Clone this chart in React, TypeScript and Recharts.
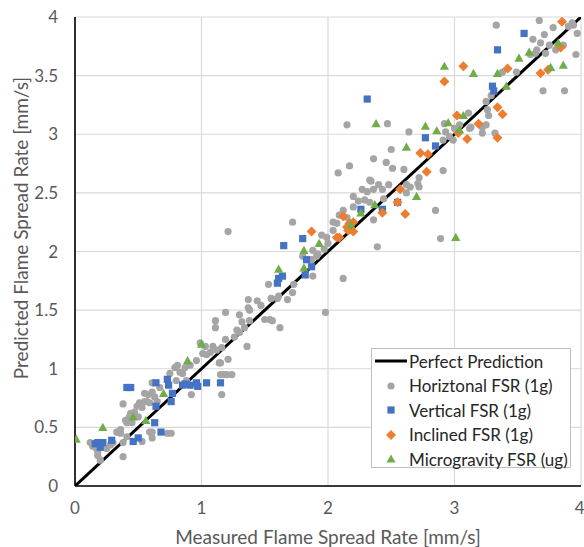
import React from 'react';
import { ScatterChart, Scatter, XAxis, YAxis, CartesianGrid } from 'recharts';

// measured vs predicted flame spread rate [mm/s]
const perfect = [[0, 0], [4, 4]];

const horizontal = [
  [0.12, 0.37], [0.14, 0.34], [0.17, 0.32], [0.18, 0.26], [0.2, 0.22], [0.18, 0.29], [0.22, 0.37], [0.25, 0.32],
  [0.28, 0.35], [0.3, 0.37], [0.33, 0.46], [0.34, 0.46], [0.36, 0.45], [0.36, 0.48], [0.38, 0.37], [0.38, 0.25],
  [0.38, 0.7], [0.4, 0.56], [0.41, 0.42], [0.41, 0.54], [0.43, 0.59], [0.44, 0.62], [0.45, 0.54], [0.47, 0.63],
  [0.49, 0.68], [0.5, 0.59], [0.51, 0.71], [0.53, 0.38], [0.53, 0.67], [0.55, 0.72], [0.55, 0.79], [0.57, 0.72],
  [0.58, 0.78], [0.59, 0.46], [0.59, 0.71], [0.61, 0.41], [0.61, 0.46], [0.61, 0.8], [0.61, 0.88], [0.63, 0.76],
  [0.65, 0.72], [0.67, 0.84], [0.73, 0.45], [0.76, 0.45], [0.75, 0.96], [0.79, 1.01], [0.8, 0.9], [0.81, 1.03],
  [0.83, 0.97], [0.85, 0.96], [0.87, 1.01], [0.88, 0.9], [0.91, 1.03], [0.92, 0.78], [0.96, 1.07], [0.99, 1.22],
  [1.01, 1.13], [1.03, 1.19], [1.04, 1.12], [1.07, 1.14], [1.09, 1.19], [1.12, 1.16], [1.14, 1.05], [1.15, 0.95],
  [1.15, 1.05], [1.16, 0.78], [1.16, 1.18], [1.18, 0.95], [1.2, 0.95], [1.21, 1.08], [1.24, 0.95],
  [1.11, 1.35], [1.11, 1.41], [1.19, 1.25], [1.19, 1.48], [1.26, 1.27], [1.28, 1.33], [1.3, 1.31], [1.3, 1.46],
  [1.32, 1.4], [1.34, 1.35], [1.36, 1.19], [1.37, 1.52], [1.37, 1.59], [1.38, 1.41], [1.38, 1.5], [1.44, 1.58],
  [1.47, 1.54], [1.5, 1.42], [1.53, 1.72], [1.54, 1.42], [1.55, 1.6], [1.56, 1.41], [1.6, 1.6], [1.61, 1.62],
  [1.62, 1.35], [1.68, 1.59], [1.72, 1.65], [1.72, 2.25], [1.73, 1.72], [1.21, 2.17], [1.8, 1.96], [1.87, 1.93],
  [1.88, 1.79], [1.88, 2.01], [1.91, 1.96], [1.92, 1.98], [1.95, 2.14], [1.97, 2.02], [1.98, 1.48], [1.99, 2.12],
  [2.0, 2.07], [2.04, 2.18], [2.07, 2.24],
  [2.04, 2.25], [2.08, 2.67], [2.09, 2.31], [2.12, 2.35], [2.12, 1.77], [2.15, 3.08], [2.15, 2.29], [2.17, 2.73],
  [2.2, 2.38], [2.2, 2.47], [2.24, 2.43], [2.27, 2.53], [2.29, 2.44], [2.31, 2.51], [2.33, 2.42], [2.33, 2.61],
  [2.34, 2.6], [2.36, 2.27], [2.36, 2.53], [2.36, 2.79], [2.39, 2.04], [2.4, 2.57], [2.43, 2.53], [2.44, 2.45],
  [2.46, 2.76], [2.47, 3.09], [2.48, 2.57], [2.5, 2.87], [2.51, 2.71], [2.6, 2.7], [2.62, 2.5], [2.62, 2.57],
  [2.64, 3.02], [2.65, 2.55], [2.71, 2.58], [2.72, 2.63], [2.72, 2.55], [2.85, 2.35], [2.89, 2.11], [2.91, 2.69],
  [2.91, 2.95], [2.92, 3.09], [2.93, 3.02], [2.96, 2.98], [2.99, 2.95], [3.0, 3.05], [3.04, 3.08], [3.11, 3.18],
  [3.12, 3.05], [3.13, 3.06], [3.22, 3.06], [3.22, 3.01], [3.25, 3.08], [3.25, 3.28], [3.26, 3.21], [3.27, 3.16],
  [3.29, 3.33], [3.32, 3.01], [3.33, 3.93], [3.38, 3.53], [3.49, 3.53], [3.6, 3.68], [3.62, 3.81], [3.64, 3.69],
  [3.65, 3.72], [3.67, 3.97], [3.68, 3.78], [3.7, 3.37], [3.71, 3.85], [3.72, 3.69], [3.75, 3.76], [3.78, 3.91],
  [3.8, 3.72], [3.86, 3.76], [3.87, 3.37], [3.9, 3.92], [3.93, 3.95], [3.94, 3.93], [3.96, 3.68], [3.97, 3.86],
];

const vertical = [
  [0.16, 0.36], [0.18, 0.37], [0.2, 0.33], [0.22, 0.37], [0.29, 0.39], [0.41, 0.84], [0.44, 0.84], [0.46, 0.38],
  [0.5, 0.41], [0.63, 0.54], [0.64, 0.68], [0.64, 0.88], [0.68, 0.46], [0.73, 0.91], [0.74, 0.86], [0.76, 0.72],
  [0.77, 0.79], [0.85, 0.86], [0.87, 0.87], [0.91, 0.86], [0.96, 0.88], [0.97, 0.85], [1.04, 0.88], [1.15, 0.88],
  [1.6, 1.73], [1.61, 1.77], [1.64, 1.79], [1.65, 2.05], [1.8, 2.11], [1.82, 1.8], [1.83, 1.93], [1.87, 1.87],
  [2.26, 2.36], [2.31, 3.3], [2.43, 2.36], [2.55, 2.42], [2.77, 2.97], [2.85, 2.9], [3.3, 3.41], [3.31, 3.37],
  [3.34, 3.72], [3.55, 3.86],
];

const inclined = [
  [1.87, 2.17], [2.07, 2.12], [2.09, 2.12], [2.12, 2.3], [2.15, 2.21], [2.16, 2.18], [2.17, 2.24], [2.2, 2.25],
  [2.2, 2.17], [2.43, 2.33], [2.55, 2.42], [2.57, 2.53], [2.61, 2.32], [2.73, 2.84], [2.78, 2.68], [2.79, 2.83],
  [2.92, 3.45], [3.02, 3.16], [3.03, 3.01], [3.07, 3.58], [3.1, 2.96], [3.19, 3.09], [3.34, 3.23], [3.34, 2.97],
  [3.38, 3.17], [3.42, 3.56], [3.68, 3.52], [3.74, 3.55], [3.84, 3.74], [3.85, 3.96],
];

const microgravity = [
  [0.01, 0.4], [0.22, 0.5], [0.46, 0.59], [0.56, 0.56], [0.7, 0.79], [0.89, 1.07], [1.0, 1.21], [1.61, 1.85],
  [1.81, 1.86], [1.81, 2.01], [1.93, 2.07], [2.18, 2.23], [2.26, 2.33], [2.37, 2.4], [2.38, 3.09], [2.62, 2.89],
  [2.7, 2.47], [2.77, 3.07], [2.86, 3.03], [2.92, 3.58], [2.95, 3.1], [3.01, 2.12], [3.04, 3.04], [3.07, 3.16],
  [3.15, 3.52], [3.34, 3.52], [3.41, 3.41], [3.51, 3.65], [3.59, 3.7], [3.76, 3.57], [3.82, 3.78], [3.86, 3.59],
];

const xTicks = [0, 1, 2, 3, 4];
const yTicks = [0, 0.5, 1, 1.5, 2, 2.5, 3, 3.5, 4];

const toPoints = (arr: number[][]) => arr.map(([x, y]) => ({ x, y }));

const GRAY = '#A5A5A5';
const BLUE = '#4472C4';
const ORANGE = '#ED7D31';
const GREEN = '#70AD47';
const TEXT = '#595959';
const FONT = 'Lato, "Noto Sans", sans-serif';

const Dot = (p: any) => <circle cx={p.cx} cy={p.cy} r={3.6} fill={GRAY} />;
const Square = (p: any) => <rect x={p.cx - 3.6} y={p.cy - 3.6} width={7.2} height={7.2} fill={BLUE} />;
const Diamond = (p: any) => (
  <polygon points={`${p.cx},${p.cy - 5} ${p.cx + 5},${p.cy} ${p.cx},${p.cy + 5} ${p.cx - 5},${p.cy}`} fill={ORANGE} />
);
const Triangle = (p: any) => (
  <polygon points={`${p.cx},${p.cy - 4.6} ${p.cx + 4.6},${p.cy + 3.6} ${p.cx - 4.6},${p.cy + 3.6}`} fill={GREEN} />
);
const Nothing = () => <g />;

const legendRows = [
  { name: 'Perfect Prediction', kind: 'line' },
  { name: 'Horiztonal FSR (1g)', kind: 'dot' },
  { name: 'Vertical FSR (1g)', kind: 'square' },
  { name: 'Inclined FSR (1g)', kind: 'diamond' },
  { name: 'Microgravity FSR (ug)', kind: 'triangle' },
];

const LegendMark = ({ kind }: { kind: string }) => (
  <svg width={34} height={16} style={{ flex: 'none' }}>
    {kind === 'line' && <line x1={1} y1={8} x2={33} y2={8} stroke="#000" strokeWidth={3} />}
    {kind === 'dot' && <Dot cx={17} cy={8} />}
    {kind === 'square' && <Square cx={17} cy={8} />}
    {kind === 'diamond' && <Diamond cx={17} cy={8} />}
    {kind === 'triangle' && <Triangle cx={17} cy={8} />}
  </svg>
);

// legend drawn as an overlay so it does not eat into the plot area
const ChartLegend = () => (
  <div
    style={{
      position: 'absolute',
      left: 371,
      top: 348,
      width: 200,
      height: 120,
      boxSizing: 'border-box',
      border: '1px solid #BFBFBF',
      background: '#fff',
      padding: '0 0 0 2px',
      fontFamily: FONT,
      fontSize: 17,
      color: '#262626',
    }}
  >
    {legendRows.map((r) => (
      <div key={r.name} style={{ display: 'flex', alignItems: 'center', height: 24.5 }}>
        <LegendMark kind={r.kind} />
        <span style={{ marginLeft: 1, whiteSpace: 'nowrap' }}>{r.name}</span>
      </div>
    ))}
  </div>
);

const XTitle = () => (
  <text x={328} y={536} textAnchor="middle" dominantBaseline="central" fill={TEXT} fontFamily={FONT} fontSize={19}>
    Measured Flame Spread Rate [mm/s]
  </text>
);

const YTitle = () => (
  <text
    x={20}
    y={228}
    transform="rotate(-90 20 228)"
    textAnchor="middle"
    dominantBaseline="central"
    fill={TEXT}
    fontFamily={FONT}
    fontSize={19}
  >
    Predicted Flame Spread Rate [mm/s]
  </text>
);

export default function App() {
  return (
    <div style={{ position: 'absolute', left: 0, top: 0, width: 584, height: 547, background: '#fff' }}>
      <ScatterChart width={584} height={547} margin={{ top: 17, right: 3, bottom: 0, left: 0 }}>
        <CartesianGrid stroke="#D9D9D9" strokeWidth={1.2} />
        <XAxis
          type="number"
          dataKey="x"
          domain={[0, 4]}
          ticks={xTicks}
          height={61}
          tickLine={false}
          tickMargin={10}
          axisLine={{ stroke: '#000', strokeWidth: 1.6 }}
          tick={{ fill: TEXT, fontSize: 17, fontFamily: FONT }}
          allowDataOverflow
          label={{ content: XTitle }}
        />
        <YAxis
          type="number"
          dataKey="y"
          domain={[0, 4]}
          ticks={yTicks}
          width={75}
          tickLine={false}
          tickMargin={11}
          axisLine={{ stroke: '#000', strokeWidth: 1.6 }}
          tick={{ fill: TEXT, fontSize: 17, fontFamily: FONT }}
          allowDataOverflow
          label={{ content: YTitle }}
        />
        <Scatter
          name="Perfect Prediction"
          data={toPoints(perfect)}
          line={{ stroke: '#000', strokeWidth: 3 }}
          shape={Nothing}
          isAnimationActive={false}
        />
        <Scatter name="Horiztonal FSR (1g)" data={toPoints(horizontal)} shape={Dot} isAnimationActive={false} />
        <Scatter name="Vertical FSR (1g)" data={toPoints(vertical)} shape={Square} isAnimationActive={false} />
        <Scatter name="Inclined FSR (1g)" data={toPoints(inclined)} shape={Diamond} isAnimationActive={false} />
        <Scatter name="Microgravity FSR (ug)" data={toPoints(microgravity)} shape={Triangle} isAnimationActive={false} />
      </ScatterChart>
      <ChartLegend />
    </div>
  );
}
